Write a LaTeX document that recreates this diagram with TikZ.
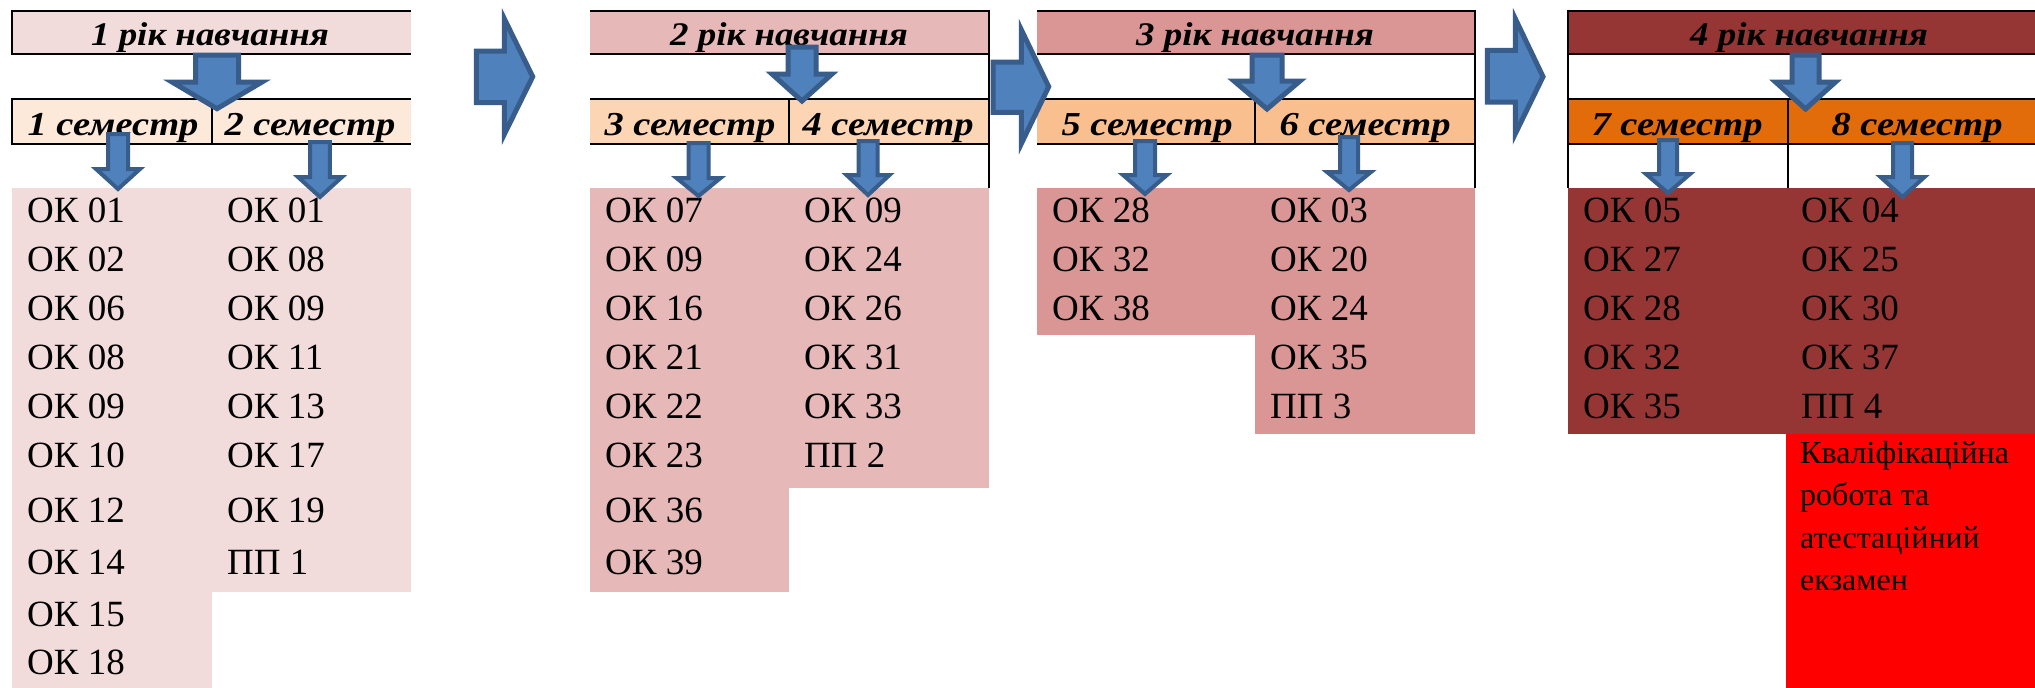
\documentclass[tikz,border=0pt]{standalone}
\usepackage{fontspec}
\setmainfont{Liberation Serif}
\newfontfamily\hdrfont{Liberation Serif}[FakeStretch=1.12]
\newfontfamily\semfont{Liberation Serif}[FakeStretch=1.15]
\definecolor{hA}{HTML}{F2DCDB}
\definecolor{hB}{HTML}{E6B8B7}
\definecolor{hC}{HTML}{DA9694}
\definecolor{hD}{HTML}{963634}
\definecolor{sA}{HTML}{FDE9D9}
\definecolor{sB}{HTML}{FCD5B4}
\definecolor{sC}{HTML}{FABF8F}
\definecolor{sD}{HTML}{E26B0A}
\definecolor{arrfill}{HTML}{4F81BD}
\definecolor{arrline}{HTML}{385D8A}
\definecolor{finalred}{HTML}{FF0000}
\tikzset{
  hdrtext/.style={font=\fontsize{33}{38}\selectfont\hdrfont\bfseries\itshape, inner sep=0pt, anchor=base},
  semtext/.style={font=\fontsize{33.5}{38}\selectfont\semfont\bfseries\itshape, inner sep=0pt, anchor=base},
  celltext/.style={font=\fontsize{37}{44}\selectfont, inner sep=0pt, anchor=base west},
  redtext/.style={font=\fontsize{32}{42.5}\selectfont, inner sep=0pt, anchor=base west, align=left},
  bline/.style={line width=2pt, black},
  bigarr/.style={fill=arrfill, draw=arrline, line width=5pt, line join=miter},
  smallarr/.style={fill=arrfill, draw=arrline, line width=4pt, line join=miter},
}
% down arrow: cx, top, shaft half width, head top, head half width, tip y (outer extents)
\newcommand\DnArr[7][smallarr]{%
  \draw[#1] ({#2-#4+2},{#3+2}) -- ({#2+#4-2},{#3+2}) -- ({#2+#4-2},{#5+2}) -- ({#2+#6-3},{#5+2})
     -- (#2,{#7-3}) -- ({#2-#6+3},{#5+2}) -- ({#2-#4+2},{#5+2}) -- cycle;}
% right arrow: left x, shaft top, shaft bottom, head base x, head top, head bottom, tip x, centre y
\newcommand\RtArr[8]{%
  \draw[bigarr] ({#1+2},{#2+2}) -- ({#4+2},{#2+2}) -- ({#4+2},{#5+3}) -- ({#7-3},#8)
     -- ({#4+2},{#6-3}) -- ({#4+2},{#3-2}) -- ({#1+2},{#3-2}) -- cycle;}
% column of cell texts
\newcommand\CellCol[3]{%
  \foreach \t [count=\i] in {#3} {%
    \pgfmathsetmacro\yy{{222,271,320,369,418,467,522,574,626,674}[\i-1]}%
    \node[celltext] (#1-\i) at (#2,\yy) {\t};
  }}
\begin{document}
\begin{tikzpicture}[x=1pt,y=-1pt]
\useasboundingbox (0,0) rectangle (2035,688);
\fill[white] (0,0) rectangle (2035,688);

% ---------- fills ----------
% block 1
\fill[hA] (11.8,10.7) rectangle (411,54.3);
\fill[sA] (11.8,99.3) rectangle (411,144);
\fill[hA] (12,188) rectangle (212,688);
\fill[hA] (212,188) rectangle (411,592);
% block 2
\fill[hB] (590,10.7) rectangle (989,54.3);
\fill[sB] (590,99.3) rectangle (989,144);
\fill[hB] (590,188) rectangle (789,592);
\fill[hB] (789,188) rectangle (989,488);
% block 3
\fill[hC] (1037,10.7) rectangle (1474.6,54.3);
\fill[sC] (1037,99.3) rectangle (1474.6,144);
\fill[hC] (1037,188) rectangle (1255,335);
\fill[hC] (1255,188) rectangle (1474.6,433.5);
% block 4
\fill[hD] (1567.5,10.7) rectangle (2035,54.3);
\fill[sD] (1567.5,99.3) rectangle (2035,144);
\fill[hD] (1568,188) rectangle (2035,434);
\fill[finalred] (1786,434) rectangle (2035,688);

% ---------- lines ----------
% block 1
\draw[bline] (411,10.7) -- (11.8,10.7) -- (11.8,54.3) -- (411,54.3);
\draw[bline] (411,99.3) -- (11.8,99.3) -- (11.8,144) -- (411,144);
\draw[bline] (211.5,99.3) -- (211.5,144);
% block 2
\foreach \yy in {10.7,54.3,99.3,144} \draw[bline] (590,\yy) -- (989,\yy);
\draw[bline] (989,9.7) -- (989,188);
\draw[bline] (789,99.3) -- (789,144);
% block 3
\foreach \yy in {10.7,54.3,99.3,144} \draw[bline] (1037,\yy) -- (1474.6,\yy);
\draw[bline] (1474.6,9.7) -- (1474.6,188);
\draw[bline] (1255,99.3) -- (1255,144);
% block 4
\foreach \yy in {10.7,54.3,99.3,144} \draw[bline] (1567.5,\yy) -- (2035,\yy);
\draw[bline] (1567.5,9.7) -- (1567.5,188);
\draw[bline] (1788,99.3) -- (1788,188);

% ---------- headings ----------
\node[hdrtext] (y1) at (210,45) {1 рік навчання};
\node[hdrtext] (y2) at (789,45) {2 рік навчання};
\node[hdrtext] (y3) at (1255,45) {3 рік навчання};
\node[hdrtext] (y4) at (1809,45) {4 рік навчання};
\node[semtext] (s1) at (113,135) {1 семестр};
\node[semtext] (s2) at (310,135) {2 семестр};
\node[semtext] (s3) at (690,135) {3 семестр};
\node[semtext] (s4) at (888,135) {4 семестр};
\node[semtext] (s5) at (1147,135) {5 семестр};
\node[semtext] (s6) at (1365,135) {6 семестр};
\node[semtext] (s7) at (1677,135) {7 семестр};
\node[semtext] (s8) at (1917,135) {8 семестр};

% ---------- cells ----------
\CellCol{c1}{27}{ОК 01,ОК 02,ОК 06,ОК 08,ОК 09,ОК 10,ОК 12,ОК 14,ОК 15,ОК 18}
\CellCol{c2}{227}{ОК 01,ОК 08,ОК 09,ОК 11,ОК 13,ОК 17,ОК 19,ПП 1}
\CellCol{c3}{605}{ОК 07,ОК 09,ОК 16,ОК 21,ОК 22,ОК 23,ОК 36,ОК 39}
\CellCol{c4}{804}{ОК 09,ОК 24,ОК 26,ОК 31,ОК 33,ПП 2}
\CellCol{c5}{1052}{ОК 28,ОК 32,ОК 38}
\CellCol{c6}{1270}{ОК 03,ОК 20,ОК 24,ОК 35,ПП 3}
\CellCol{c7}{1583}{ОК 05,ОК 27,ОК 28,ОК 32,ОК 35}
\CellCol{c8}{1801}{ОК 04,ОК 25,ОК 30,ОК 37,ПП 4}
\node[redtext] (final) at (1800,590.5) {Кваліфікаційна\\робота та\\атестаційний\\екзамен};

% ---------- arrows ----------
\RtArr{474.3}{49}{104.7}{502.3}{15.7}{137.3}{535.7}{76.7}
\RtArr{991}{60}{114.3}{1019.3}{26.7}{146.7}{1051.7}{86.7}
\RtArr{1485.3}{48.3}{104}{1513.3}{15.7}{136.7}{1546}{76.7}

\DnArr[bigarr]{217}{53}{23.5}{80}{48}{111.7}
\DnArr{118}{132}{12}{167}{25}{192}
\DnArr{320}{140}{11.8}{175}{25}{200}

\DnArr[bigarr]{802}{45}{16}{72}{33}{104}
\DnArr{698.5}{141}{12}{176}{25}{199}
\DnArr{868}{139}{11.5}{173}{24.5}{198}

\DnArr[bigarr]{1267}{53}{17}{79}{36}{112}
\DnArr{1145}{139}{12}{173}{25}{197}
\DnArr{1349}{135}{11}{170}{25}{193}

\DnArr[bigarr]{1805.5}{53}{15.5}{80}{33}{112}
\DnArr{1668}{138}{11}{172}{25}{196}
\DnArr{1902.5}{141}{11.5}{175}{25}{200}
\end{tikzpicture}
\end{document}
